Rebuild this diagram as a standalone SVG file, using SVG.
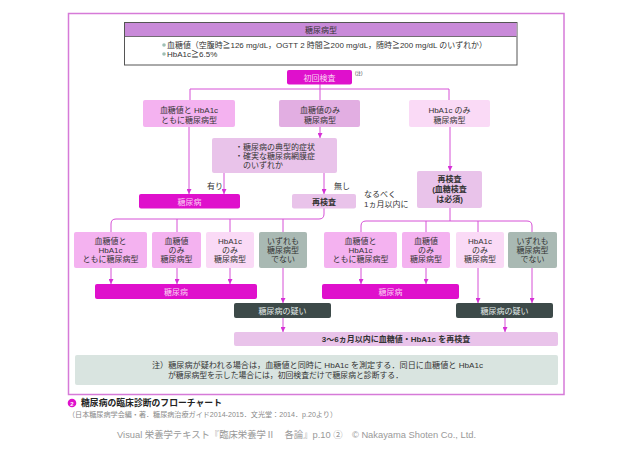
<svg xmlns="http://www.w3.org/2000/svg" width="640" height="452" viewBox="0 0 640 452">
<defs>
<style>
text{font-family:"Liberation Sans","Noto Sans CJK JP",sans-serif;font-size:8px;fill:#333;}
.c{text-anchor:middle;}
.b{font-weight:bold;}
.w{fill:#fbd3f3;}
.lw{fill:#e4ecea;}
.pk{fill:#f4b2f0;}
.lp{fill:#fadaf6;}
.li{fill:#e9c3ea;}
.mi{fill:#e2aee2;}
.mg{fill:#df10cc;}
.gg{fill:#a9b9b3;}
.dk{fill:#3d4a49;}
.cn{fill:none;stroke:#d651d6;stroke-width:1;}
</style>
<marker id="ah" markerUnits="userSpaceOnUse" markerWidth="6" markerHeight="5" refX="5" refY="2.5" orient="auto">
<path d="M0,0 L5,2.5 L0,5 Z" fill="#d630d6"/>
</marker>
</defs>
<rect width="640" height="452" fill="#fff"/>
<rect x="68.5" y="13.5" width="495.5" height="381" fill="none" stroke="#d67ad8" stroke-width="1.5"/>

<g id="criteria-box">
<rect x="124.5" y="22.5" width="392.5" height="42.5" fill="#fff" stroke="#555" stroke-width="1"/>
<rect x="125" y="23" width="391.5" height="13.5" fill="#c98ad9"/>
<line x1="125" y1="36.5" x2="516.5" y2="36.5" stroke="#555" stroke-width="0.8"/>
<text class="c" x="321" y="32.5">糖尿病型</text>
<circle cx="164" cy="45" r="1.8" fill="#9fbfb5"/>
<text x="167" y="48" textLength="320" lengthAdjust="spacingAndGlyphs">血糖値（空腹時≧126 mg/dL，OGTT 2 時間≧200 mg/dL，随時≧200 mg/dL のいずれか）</text>
<circle cx="164" cy="54" r="1.8" fill="#9fbfb5"/>
<text x="167" y="57">HbA1c≧6.5%</text>
</g>

<g id="connectors">
<path class="cn" d="M320,84 V100 M190,100 V89 H449 V100"/>
<path class="cn" d="M189,127 V194" marker-end="url(#ah)"/>
<path class="cn" d="M320,127 V138" marker-end="url(#ah)"/>
<path class="cn" d="M224,173 V194" marker-end="url(#ah)"/>
<path class="cn" d="M324,173 V194" marker-end="url(#ah)"/>
<path class="cn" d="M450,127 V171" marker-end="url(#ah)"/>
<path class="cn" d="M324,208 V214 Q324,219 319,219 H116 Q111,219 111,224 V232 M177,219 V232 M230,219 V232 M283,219 V232"/>
<path class="cn" d="M450,208 V221 M366,221 H527 Q532,221 532,226 V232 M366,221 Q361,221 361,226 V232 M426,221 V232 M478,221 V232"/>
<path class="cn" d="M111,268 V284" marker-end="url(#ah)"/>
<path class="cn" d="M177,268 V284" marker-end="url(#ah)"/>
<path class="cn" d="M230,268 V284" marker-end="url(#ah)"/>
<path class="cn" d="M283,268 V303" marker-end="url(#ah)"/>
<path class="cn" d="M283,318 V332" marker-end="url(#ah)"/>
<path class="cn" d="M361,268 V284" marker-end="url(#ah)"/>
<path class="cn" d="M426,268 V284" marker-end="url(#ah)"/>
<path class="cn" d="M478,268 V303" marker-end="url(#ah)"/>
<path class="cn" d="M532,268 V303" marker-end="url(#ah)"/>
<path class="cn" d="M505,318 V332" marker-end="url(#ah)"/>
</g>

<g id="first-test">
<rect class="mg" x="287" y="70" width="65" height="14.5" rx="2"/>
<text class="c w" x="319.5" y="80.5">初回検査</text>
<text x="355" y="75" style="font-size:4.5px">(注)</text>
</g>

<g id="both-type">
<rect class="pk" x="143" y="100" width="92" height="27" rx="2"/>
<text class="c" x="189" y="113">血糖値と HbA1c</text>
<text class="c" x="189" y="123">ともに糖尿病型</text>
</g>
<g id="glucose-only">
<rect class="mi" x="279" y="100" width="81" height="27" rx="2"/>
<text class="c" x="320" y="113">血糖値のみ</text>
<text class="c" x="320" y="123">糖尿病型</text>
</g>
<g id="hba1c-only">
<rect class="lp" x="409" y="100" width="81" height="27" rx="2"/>
<text class="c" x="449.5" y="113">HbA1c のみ</text>
<text class="c" x="449.5" y="123">糖尿病型</text>
</g>

<g id="symptoms">
<rect class="li" x="212" y="138" width="125" height="35" rx="2"/>
<text x="235" y="150">・糖尿病の典型的症状</text>
<text x="235" y="159">・確実な糖尿病網膜症</text>
<text x="243" y="168">のいずれか</text>
</g>
<text class="c" x="215" y="189">有り</text>
<text class="c" x="342" y="189">無し</text>

<g id="dm-1">
<rect class="mg" x="139" y="194" width="101" height="14.5" rx="2"/>
<text class="c w" x="189.5" y="204.5">糖尿病</text>
</g>
<g id="retest-1">
<rect class="li" x="292" y="194" width="64" height="14.5" rx="2"/>
<text class="c b" x="324" y="204.5">再検査</text>
</g>

<text x="364" y="197">なるべく</text>
<text x="364" y="207">1ヵ月以内に</text>
<g id="retest-2">
<rect class="li" x="417" y="171" width="65" height="37" rx="2"/>
<text class="c b" x="449.5" y="182">再検査</text>
<text class="c b" x="449.5" y="192">(血糖検査</text>
<text class="c b" x="449.5" y="202">は必須)</text>
</g>

<g id="l-both">
<rect class="pk" x="74" y="232" width="73" height="36" rx="2"/>
<text class="c" x="110.5" y="244">血糖値と</text>
<text class="c" x="110.5" y="253">HbA1c</text>
<text class="c" x="110.5" y="262">ともに糖尿病型</text>
</g>
<g id="l-glu">
<rect class="pk" x="152" y="232" width="49" height="36" rx="2"/>
<text class="c" x="176.5" y="244">血糖値</text>
<text class="c" x="176.5" y="253">のみ</text>
<text class="c" x="176.5" y="262">糖尿病型</text>
</g>
<g id="l-hba">
<rect class="lp" x="206" y="232" width="48" height="36" rx="2"/>
<text class="c" x="230" y="244">HbA1c</text>
<text class="c" x="230" y="253">のみ</text>
<text class="c" x="230" y="262">糖尿病型</text>
</g>
<g id="l-none">
<rect class="gg" x="259" y="232" width="48" height="36" rx="2"/>
<text class="c" x="283" y="244">いずれも</text>
<text class="c" x="283" y="253">糖尿病型</text>
<text class="c" x="283" y="262">でない</text>
</g>

<g id="r-both">
<rect class="pk" x="324" y="232" width="73" height="36" rx="2"/>
<text class="c" x="360.5" y="244">血糖値と</text>
<text class="c" x="360.5" y="253">HbA1c</text>
<text class="c" x="360.5" y="262">ともに糖尿病型</text>
</g>
<g id="r-glu">
<rect class="pk" x="402" y="232" width="48" height="36" rx="2"/>
<text class="c" x="426" y="244">血糖値</text>
<text class="c" x="426" y="253">のみ</text>
<text class="c" x="426" y="262">糖尿病型</text>
</g>
<g id="r-hba">
<rect class="lp" x="456" y="232" width="48" height="36" rx="2"/>
<text class="c" x="480" y="244">HbA1c</text>
<text class="c" x="480" y="253">のみ</text>
<text class="c" x="480" y="262">糖尿病型</text>
</g>
<g id="r-none">
<rect class="gg" x="508" y="232" width="49" height="36" rx="2"/>
<text class="c" x="532.5" y="244">いずれも</text>
<text class="c" x="532.5" y="253">糖尿病型</text>
<text class="c" x="532.5" y="262">でない</text>
</g>

<g id="dm-2">
<rect class="mg" x="95" y="284" width="162" height="15" rx="2"/>
<text class="c w" x="176" y="294.5">糖尿病</text>
</g>
<g id="dm-3">
<rect class="mg" x="322" y="284" width="137" height="15" rx="2"/>
<text class="c w" x="390.5" y="294.5">糖尿病</text>
</g>
<g id="suspect-1">
<rect class="dk" x="234" y="303" width="97" height="15" rx="2"/>
<text class="c lw" x="282.5" y="313.5">糖尿病の疑い</text>
</g>
<g id="suspect-2">
<rect class="dk" x="456" y="303" width="97" height="15" rx="2"/>
<text class="c lw" x="504.5" y="313.5">糖尿病の疑い</text>
</g>
<g id="recheck">
<rect class="li" x="234" y="332" width="324" height="14" rx="2"/>
<text class="c b" x="396" y="342">3〜6ヵ月以内に血糖値・HbA1c を再検査</text>
</g>

<g id="note">
<rect x="75" y="355" width="483" height="30" rx="2" fill="#d9e4e0"/>
<text x="152" y="368" textLength="331" lengthAdjust="spacingAndGlyphs">注）糖尿病が疑われる場合は，血糖値と同時に HbA1c を測定する．同日に血糖値と HbA1c</text>
<text x="168" y="378" textLength="235" lengthAdjust="spacingAndGlyphs">が糖尿病型を示した場合には，初回検査だけで糖尿病と診断する．</text>
</g>

<g id="caption">
<circle cx="72" cy="403" r="4.3" fill="#df10cc"/>
<text class="c b" x="72" y="405.5" style="font-size:6px;fill:#fff">2</text>
<text class="b" x="81" y="406" style="font-size:8.8px;fill:#222" textLength="141" lengthAdjust="spacingAndGlyphs">糖尿病の臨床診断のフローチャート</text>
<text x="68" y="416.5" style="font-size:7px;fill:#8a8a8a" textLength="269" lengthAdjust="spacingAndGlyphs">（日本糖尿病学会編・著．糖尿病治療ガイド2014-2015．文光堂：2014．p.20より）</text>
<text x="117" y="438" style="font-size:9.5px;fill:#999" textLength="359" lengthAdjust="spacingAndGlyphs">Visual 栄養学テキスト『臨床栄養学Ⅱ　各論』p.10 ②　© Nakayama Shoten Co., Ltd.</text>
</g>
</svg>
